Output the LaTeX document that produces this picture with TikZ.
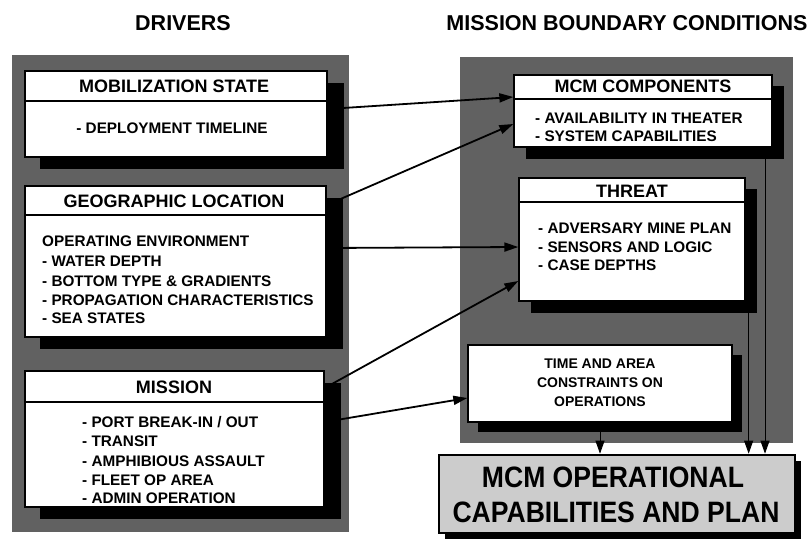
\documentclass[tikz,border=0pt]{standalone}
\usepackage{fontspec}
\setmainfont{Liberation Sans}
\usetikzlibrary{arrows.meta}
\newcommand\ttlfont{\fontsize{21.5}{25}\selectfont\bfseries}
\newcommand\hdrfont{\fontsize{18}{20}\selectfont\bfseries}
\newcommand\bdyfont{\fontsize{15.3}{18}\selectfont\bfseries}
\newcommand\tmfont{\fontsize{14}{17}\selectfont\bfseries}
\newcommand\bigfnt{\fontsize{29.5}{32}\selectfont\bfseries\addfontfeature{FakeStretch=0.9}}
\tikzset{
  panel/.style={fill=black!62, draw=none},
  shade/.style={fill=black, draw=none},
  wbox/.style={draw=black, line width=1.3pt, fill=white, inner sep=0pt},
  sep/.style={line width=1.3pt},
  ttl/.style={font=\ttlfont, inner sep=0pt, anchor=base},
  hdr/.style={font=\hdrfont, inner sep=0pt, anchor=base},
  bdy/.style={font=\bdyfont, inner sep=0pt, anchor=base west},
  tmtxt/.style={font=\tmfont, inner sep=0pt, anchor=base},
  bigtxt/.style={font=\bigfnt, inner sep=0pt, anchor=base},
  link/.style={line width=1.8pt, -{Triangle[length=14pt,width=9pt]}},
  vlink/.style={line width=0.9pt, -{Triangle[length=13pt,width=9pt]}}
}
\begin{document}
\begin{tikzpicture}[x=1pt,y=-1pt]
\useasboundingbox (0,0) rectangle (809,544);
% titles
\node[ttl] (tdrv) at (183,30) {DRIVERS};
\node[ttl] (tmbc) at (627,30) {MISSION BOUNDARY CONDITIONS};
% left panel
\fill[panel] (12,55) rectangle (349,532);
\fill[shade] (40,83) rectangle (344,169);
\fill[shade] (40,198) rectangle (343,349);
\fill[shade] (40,383) rectangle (341,519);
% right panel
\fill[panel] (460,57) rectangle (793,443);
\fill[shade] (526,86) rectangle (784,159);
\fill[shade] (531,189) rectangle (757,313);
\fill[shade] (478,355) rectangle (742,432);
% boxes
\node[wbox, minimum width=302pt, minimum height=86pt] (mob) at (176,114) {};
\node[wbox, minimum width=301pt, minimum height=151pt] (geo) at (175.5,261.5) {};
\node[wbox, minimum width=299pt, minimum height=136pt] (mis) at (174.5,439) {};
\node[wbox, minimum width=258pt, minimum height=72pt] (mcm) at (643,111) {};
\node[wbox, minimum width=226pt, minimum height=123pt] (thr) at (632,239.5) {};
\node[wbox, minimum width=264pt, minimum height=77pt] (tim) at (600,383.5) {};
% header separators
\draw[sep] (mob.west |- 0,101) -- (mob.east |- 0,101);
\draw[sep] (geo.west |- 0,215) -- (geo.east |- 0,215);
\draw[sep] (mis.west |- 0,402) -- (mis.east |- 0,402);
\draw[sep] (mcm.west |- 0,99) -- (mcm.east |- 0,99);
\draw[sep] (thr.west |- 0,202) -- (thr.east |- 0,202);
% texts left
\node[hdr] (hmob) at (174,92.5) {MOBILIZATION STATE};
\node[bdy, anchor=base] (bmob) at (172,133) {- DEPLOYMENT TIMELINE};
\node[hdr] (hgeo) at (174,207) {GEOGRAPHIC LOCATION};
\node[bdy] (g1) at (42,246) {OPERATING ENVIRONMENT};
\node[bdy] (g2) at (42,266) {- WATER DEPTH};
\node[bdy] (g3) at (42,286) {- BOTTOM TYPE \& GRADIENTS};
\node[bdy] (g4) at (42,305) {- PROPAGATION CHARACTERISTICS};
\node[bdy] (g5) at (42,323.5) {- SEA STATES};
\node[hdr] (hmis) at (174,393) {MISSION};
\node[bdy] (m1) at (82,427) {- PORT BREAK-IN / OUT};
\node[bdy] (m2) at (82,446) {- TRANSIT};
\node[bdy] (m3) at (82,466) {- AMPHIBIOUS ASSAULT};
\node[bdy] (m4) at (82,485) {- FLEET OP AREA};
\node[bdy] (m5) at (82,503) {- ADMIN OPERATION};
% texts right
\node[hdr] (hmcm) at (643,92) {MCM COMPONENTS};
\node[bdy] (c1) at (535,123) {- AVAILABILITY IN THEATER};
\node[bdy] (c2) at (535,141.5) {- SYSTEM CAPABILITIES};
\node[hdr] (hthr) at (632,197) {THREAT};
\node[bdy] (t1) at (538,233) {- ADVERSARY MINE PLAN};
\node[bdy] (t2) at (538,252) {- SENSORS AND LOGIC};
\node[bdy] (t3) at (538,270) {- CASE DEPTHS};
\node[tmtxt] (a1) at (600,368) {TIME AND AREA};
\node[tmtxt] (a2) at (600,387) {CONSTRAINTS ON};
\node[tmtxt] (a3) at (600,406) {OPERATIONS};
% final box
\fill[shade] (445,461) rectangle (801,539);
\node[draw=black, line width=2.6pt, fill=black!20, inner sep=0pt,
      minimum width=356pt, minimum height=78pt] (fin) at (617,494) {};
\node[bigtxt] (f1) at (613,487) {MCM OPERATIONAL};
\node[bigtxt] (f2) at (616,522) {CAPABILITIES AND PLAN};
% connectors
\draw[link] ([yshift=5pt]mob.east) -- ([yshift=14pt]mcm.west);
\draw[link] ([yshift=56.5pt]geo.east) -- ([yshift=-13pt]mcm.west);
\draw[link] ([yshift=13.5pt]geo.east) -- ([yshift=-7.5pt]thr.west);
\draw[link] ([yshift=51pt]mis.east) -- ([yshift=-41.5pt]thr.west);
\draw[link] ([yshift=17pt]mis.east) -- ([yshift=-14.5pt]tim.west);
\coordinate (mA) at ([xshift=122pt]mcm.south);
\coordinate (tA) at ([xshift=3pt]thr.south east);
\draw[vlink] (tim.south) -- (tim.south |- fin.north);
\draw[vlink] (tA) -- (tA |- fin.north);
\draw[vlink] (mA) -- (mA |- fin.north);
\end{tikzpicture}
\end{document}
